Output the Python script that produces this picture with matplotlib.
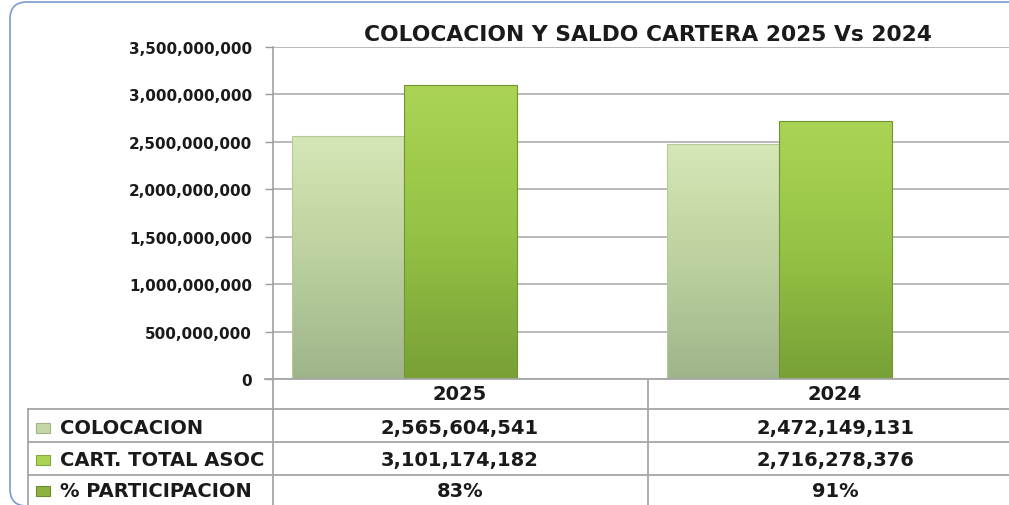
import matplotlib
matplotlib.use("Agg")
import matplotlib.pyplot as plt
import numpy as np
from matplotlib.patches import FancyBboxPatch, Rectangle
from matplotlib.lines import Line2D
from matplotlib.colors import LinearSegmentedColormap

plt.rcParams['font.family'] = ['DejaVu Sans']

# ---- data ----
title = "COLOCACION Y SALDO CARTERA 2025 Vs 2024"
categories = ["2025", "2024"]
series_names = ["COLOCACION", "CART. TOTAL ASOC", "% PARTICIPACION"]
colocacion = [2565604541, 2472149131]
cartera = [3101174182, 2716278376]
participacion = ["83%", "91%"]
yticks = [0, 500000000, 1000000000, 1500000000, 2000000000, 2500000000, 3000000000, 3500000000]

W, H = 1009, 506
fig = plt.figure(figsize=(W / 100, H / 100), dpi=100)

def fx(px):
    return px / W

def fy(py):
    return 1 - py / H

# rounded outer border (inch units so corners are circular)
bx0, by_top, bx1, by_bot = 10, 3, 1040, 507
border = FancyBboxPatch((bx0 / 100, (H - by_bot) / 100), (bx1 - bx0) / 100, (by_bot - by_top) / 100,
                        boxstyle="round,pad=0,rounding_size=0.17",
                        transform=fig.dpi_scale_trans, fill=False,
                        edgecolor="#7a9bd0", linewidth=1.2, clip_on=False, zorder=0)
fig.patches.append(border)
# white table background hides the border behind the table
fig.patches.append(Rectangle((fx(28), fy(506)), fx(1009) - fx(28), fy(410) - fy(506),
                             transform=fig.transFigure, facecolor="white",
                             edgecolor="none", zorder=0.5))

ax_l, ax_r, ax_t, ax_b = 273, 1023, 48, 380
ax = fig.add_axes([fx(ax_l), fy(ax_b), fx(ax_r) - fx(ax_l), fy(ax_t) - fy(ax_b)])
ax.patch.set_alpha(0)
ax.set_xlim(-0.5, 1.5)
ax.set_ylim(0, 3500000000)
ax.set_yticks(yticks)
ax.set_yticklabels([f"{v:,}" for v in yticks], fontsize=11, fontweight="bold", color="#1a1a1a")
ax.tick_params(axis="y", length=6, width=1, color="#9a9a9a", pad=9)
ax.set_xticks([])
ax.grid(axis="y", color="#a6a6a6", linewidth=1.1)
ax.set_axisbelow(True)
for s in ["top", "right", "bottom"]:
    ax.spines[s].set_visible(False)
ax.spines["left"].set_color("#9a9a9a")
ax.spines["left"].set_linewidth(1.1)

x = np.arange(len(categories))
bw = 0.3
cm1 = LinearSegmentedColormap.from_list("c1", ["#a0b48b", "#bcd19f", "#d5e7b6"])
cm2 = LinearSegmentedColormap.from_list("c2", ["#78a036", "#95c345", "#abd455"])
b1 = ax.bar(x - bw, colocacion, bw, facecolor="none", edgecolor="#b5c99c", linewidth=0.8, zorder=3)
b2 = ax.bar(x, cartera, bw, facecolor="none", edgecolor="#6f9430", linewidth=0.8, zorder=3)
grad = np.linspace(0, 1, 256).reshape(-1, 1)
for bars, cm in [(b1, cm1), (b2, cm2)]:
    for p in bars:
        x0, w, h = p.get_x(), p.get_width(), p.get_height()
        im = ax.imshow(grad, cmap=cm, origin="lower", aspect="auto",
                       extent=[x0, x0 + w, 0, h], zorder=2)
        im.set_clip_path(p)
ax.set_xlim(-0.5, 1.5)
ax.set_ylim(0, 3500000000)

fig.text(fx(648), fy(35), title, ha="center", va="center", fontsize=15.7,
         fontweight="bold", color="#1a1a1a")

# ---- data table ----
line_c = "#a6a6a6"
def hline(y, x0, x1):
    fig.add_artist(Line2D([fx(x0), fx(x1)], [fy(y), fy(y)], color=line_c, lw=1.3,
                          transform=fig.transFigure, clip_on=False))
def vline(xp, y0, y1):
    fig.add_artist(Line2D([fx(xp), fx(xp)], [fy(y0), fy(y1)], color=line_c, lw=1.3,
                          transform=fig.transFigure, clip_on=False))

hline(380, 265, 1009)
for yy in [410, 443, 476]:
    hline(yy, 28, 1009)
vline(273, 380, 506)
vline(648, 380, 506)
vline(28, 410, 506)

col_centers = [460, 835]
row_centers = [429, 461, 492]
fs_tab = 14
for c, cx in zip(categories, col_centers):
    fig.text(fx(cx), fy(395), c, ha="center", va="center", fontsize=fs_tab,
             fontweight="bold", color="#1a1a1a")

row_vals = [[f"{v:,}" for v in colocacion], [f"{v:,}" for v in cartera], participacion]
key_cols = [("#c4d7a6", "#a0b48b"), ("#abd455", "#80a83a"), ("#8fb23f", "#6a8c2c")]
for name, vals, ry, kc in zip(series_names, row_vals, row_centers, key_cols):
    fig.text(fx(60), fy(ry), name, ha="left", va="center", fontsize=fs_tab,
             fontweight="bold", color="#1a1a1a")
    fig.add_artist(Rectangle((fx(36), fy(ry + 5)), fx(14), fy(ry - 5) - fy(ry + 5),
                             transform=fig.transFigure, facecolor=kc[0],
                             edgecolor=kc[1], lw=0.8))
    for v, cx in zip(vals, col_centers):
        fig.text(fx(cx), fy(ry), v, ha="center", va="center", fontsize=fs_tab,
                 fontweight="bold", color="#1a1a1a")

fig.savefig("out.png", dpi=100)
